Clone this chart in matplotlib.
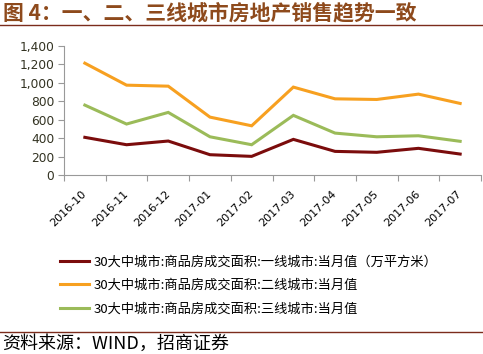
import matplotlib
matplotlib.use("Agg")
import matplotlib.pyplot as plt
from matplotlib.lines import Line2D

plt.rcParams['font.family'] = ['Noto Sans CJK SC', 'DejaVu Sans']

# ==============================
# DATA
# ==============================
months = ["2016-10", "2016-11", "2016-12", "2017-01", "2017-02",
          "2017-03", "2017-04", "2017-05", "2017-06", "2017-07"]
tier1 = [411, 331, 371, 223, 205, 389, 259, 249, 292, 230]
tier2 = [1214, 976, 965, 630, 536, 955, 828, 821, 879, 778]
tier3 = [760, 555, 681, 417, 331, 649, 457, 417, 428, 368]

labels = [
    "30大中城市:商品房成交面积:一线城市:当月值（万平方米）",
    "30大中城市:商品房成交面积:二线城市:当月值",
    "30大中城市:商品房成交面积:三线城市:当月值",
]
colors = ["#7B0C0C", "#F7A020", "#9BBB59"]

W, H = 483, 354
fig = plt.figure(figsize=(W / 100, H / 100), dpi=100)
ax = fig.add_axes([64 / W, 1 - 175.3 / H, (481 - 64) / W, (175.3 - 46) / H])

x = range(len(months))
lines = []
for vals, c, lab in zip([tier1, tier2, tier3], colors, labels):
    ln, = ax.plot(x, vals, color=c, linewidth=2.2, label=lab, solid_joinstyle="miter")
    lines.append(ln)

ax.set_xlim(-0.5, len(months) - 0.5)
ax.set_ylim(0, 1400)
ax.set_yticks(range(0, 1401, 200))
ax.set_yticklabels([f"{v:,}" for v in range(0, 1401, 200)], fontsize=8.8, color="#333322",
                   family=["DejaVu Sans"])
ax.set_xticks([i - 0.5 for i in range(len(months) + 1)], minor=False)
ax.set_xticklabels([])
ax.set_xticks(list(x), minor=True)
ax.set_xticklabels(months, minor=True, rotation=45, ha="right", va="center",
                   rotation_mode="anchor", fontsize=8, family=["DejaVu Sans"])
ax.tick_params(axis="x", which="minor", length=0, pad=12)
ax.tick_params(axis="x", which="major", length=4, color="#999999")
ax.tick_params(axis="y", length=4, color="#999999", pad=3)

for s in ["top", "right"]:
    ax.spines[s].set_visible(False)
for s in ["left", "bottom"]:
    ax.spines[s].set_color("#999999")
    ax.spines[s].set_linewidth(0.8)

fig.legend(handles=lines, loc="upper left", bbox_to_anchor=(55 / W, 1 - 250 / H),
           frameon=False, fontsize=9.5, handlelength=2.2, handletextpad=0.35,
           labelspacing=0.82, borderaxespad=0)

# title and rules
fig.text(3 / W, 1 - 13 / H, "图 4：一、二、三线城市房地产销售趋势一致", fontsize=15,
         fontweight="bold", color="#8E4A1C", va="center", ha="left")
fig.add_artist(Line2D([0, 1], [1 - 25 / H] * 2, color="#7B2C1C", linewidth=1.0))
fig.add_artist(Line2D([0, 1], [1 - 332 / H] * 2, color="#7B2C1C", linewidth=1.0))
fig.text(2 / W, 1 - 344 / H, "资料来源：WIND，招商证券", fontsize=13, color="black",
         va="center", ha="left")

fig.savefig("out.png", dpi=100)
